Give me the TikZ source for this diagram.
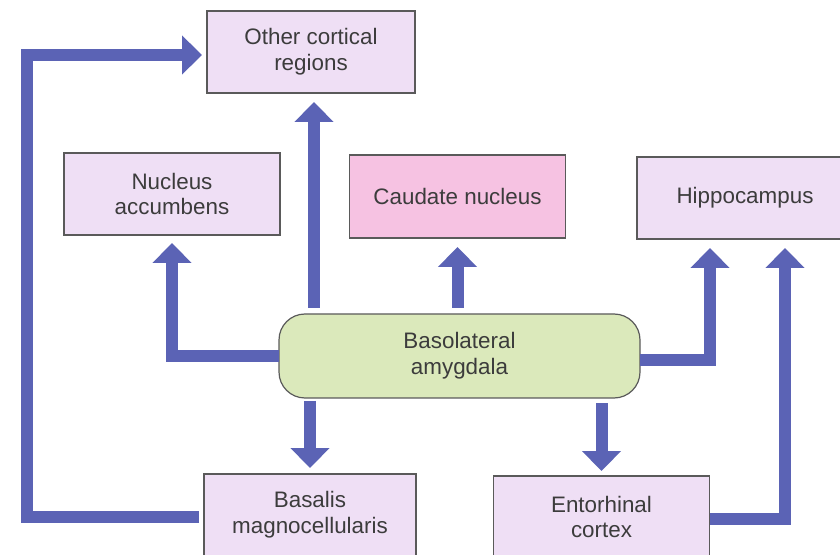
\documentclass[tikz,border=0pt]{standalone}
\usepackage{fontspec}
\setmainfont{Liberation Sans}
\usetikzlibrary{arrows.meta,calc}
\definecolor{flow}{HTML}{5B63B5}
\definecolor{lav}{HTML}{EFDFF5}
\definecolor{pinkfill}{HTML}{F6C2E2}
\definecolor{greenfill}{HTML}{DBE9BB}
\definecolor{ink}{HTML}{3C3C3C}
\definecolor{edgegray}{HTML}{5A5A5A}
\tikzset{
  region/.style={draw=edgegray, line width=0.6pt, fill=lav, inner sep=0pt, outer sep=0pt,
    minimum width=108pt, minimum height=41pt, align=center,
    font=\fontsize{11.2}{12.8}\selectfont, text=ink},
  flowarrow/.style={draw=flow, line width=6pt, line join=miter,
    -{Triangle[width=19pt,length=10pt]}},
}
\begin{document}
\begin{tikzpicture}[x=0.5pt, y=-0.5pt]
  \useasboundingbox (0,0) rectangle (840,555);

  % brain regions
  \node[region, minimum width=104pt] (oc) at (311,52) {Other cortical\\regions};
  \node[region] (na) at (172,194) {Nucleus\\accumbens};
  \node[region, fill=pinkfill, minimum height=41.5pt] (cn) at (457.5,196.5) {Caudate nucleus};
  \node[region] (hc) at (745,198) {Hippocampus};
  \node[region, fill=greenfill, rounded corners=13pt, minimum width=180.5pt,
        minimum height=42pt] (bla) at (459.5,356) {Basolateral\\amygdala};
  \node[region, minimum width=106pt] (bm) at (310,515) {Basalis\\magnocellularis};
  \node[region] (ec) at (601.5,517) {Entorhinal\\cortex};

  % projections
  \draw[flowarrow] ($(bla.north)+(-145.5,-6)$) -- ($(oc.south)+(3,9)$);
  \draw[flowarrow] (bla.west) -| ($(na.south)+(0,8)$);
  \draw[flowarrow] ([yshift=3pt]bla.north -| cn.south) -- ([yshift=-4.5pt]cn.south);
  \draw[flowarrow] ([yshift=-2pt]bla.east) -| ($(hc.south)+(-35,9)$);
  \draw[flowarrow] ([yshift=-1pt]ec.east) -| ($(hc.south)+(40,9)$);
  \draw[flowarrow] ([yshift=-1.5pt]bla.south -| bm.north) -- ([yshift=3pt]bm.north);
  \draw[flowarrow] ([yshift=-2.5pt]bla.south -| ec.north) -- ([yshift=2.5pt]ec.north);
  \draw[flowarrow] ([xshift=-2.5pt,yshift=-1pt]bm.west) -- ++(-172,0) |- ($(oc.west)+(-5,3)$);
\end{tikzpicture}
\end{document}
